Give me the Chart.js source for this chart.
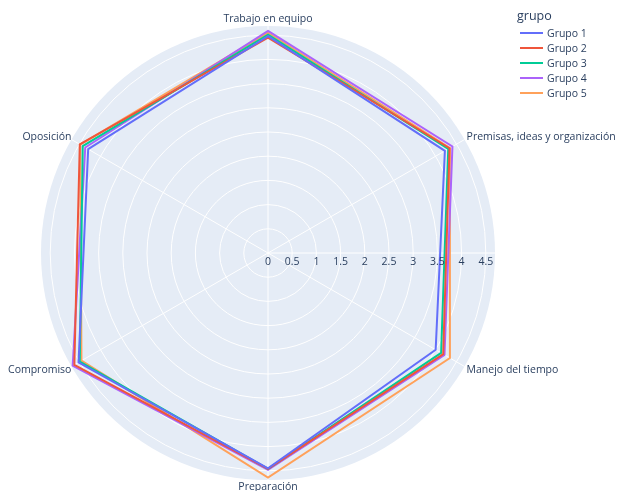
<!DOCTYPE html>
<html>
<head>
<meta charset="utf-8">
<script src="https://cdn.jsdelivr.net/npm/chart.js@4"></script>
<style>
  body { margin: 0; background: #fff; font-family: "Open Sans", sans-serif; }
  #wrap { position: relative; width: 618px; height: 491px; }
  #legend { position: absolute; left: 517px; top: 7px; color: #2a3f5f; font-size: 10.5px; }
  #legend .title { font-size: 12.5px; margin-bottom: 1px; }
  #legend .item { display: flex; align-items: center; height: 15px; }
  #legend .swatch { width: 23px; height: 2px; margin: 0 4px 0 3px; }
</style>
</head>
<body>
<div id="wrap">
  <canvas id="chart" width="618" height="491"></canvas>
  <div id="legend"></div>
</div>
<script>
const categories = ["Trabajo en equipo", "Premisas, ideas y organización", "Manejo del tiempo", "Preparación", "Compromiso", "Oposición"];
const groups = ["Grupo 1", "Grupo 2", "Grupo 3", "Grupo 4", "Grupo 5"];
const grupo1 = [4.48, 4.22, 4.00, 4.45, 4.52, 4.29];
const grupo2 = [4.45, 4.33, 4.18, 4.46, 4.62, 4.49];
const grupo3 = [4.51, 4.30, 4.13, 4.46, 4.49, 4.42];
const grupo4 = [4.59, 4.40, 4.21, 4.48, 4.66, 4.36];
const grupo5 = [4.55, 4.34, 4.34, 4.64, 4.45, 4.48];
const tickValues = [0, 0.5, 1, 1.5, 2, 2.5, 3, 3.5, 4, 4.5];
const colors = ["#636efa", "#EF553B", "#00cc96", "#ab63fa", "#FFA15A"];
const series = [grupo1, grupo2, grupo3, grupo4, grupo5];
const textColor = "#2a3f5f";
const font = '10.5px "Open Sans", sans-serif';

// polar background, radial axis line + labels, category labels
const polarDecor = {
  id: "polarDecor",
  beforeDraw(chart) {
    const s = chart.scales.r, ctx = chart.ctx;
    ctx.save();
    ctx.fillStyle = "#E5ECF6";
    ctx.beginPath();
    ctx.arc(s.xCenter, s.yCenter, s.drawingArea, 0, Math.PI * 2);
    ctx.fill();
    ctx.restore();
  },
  beforeDatasetsDraw(chart) {
    const s = chart.scales.r, ctx = chart.ctx;
    ctx.save();
    ctx.strokeStyle = "#fff";
    ctx.lineWidth = 1;
    ctx.beginPath();
    ctx.moveTo(s.xCenter, s.yCenter);
    ctx.lineTo(s.xCenter + s.drawingArea, s.yCenter);
    ctx.stroke();
    ctx.restore();
  },
  afterDraw(chart) {
    const s = chart.scales.r, ctx = chart.ctx;
    ctx.save();
    ctx.font = font;
    ctx.fillStyle = textColor;
    ctx.textAlign = "center";
    ctx.textBaseline = "middle";
    tickValues.forEach(v => {
      ctx.fillText(String(v), s.xCenter + s.getDistanceFromCenterForValue(v), s.yCenter + 9);
    });
    categories.forEach((c, i) => {
      const p = s.getPointPosition(i, s.drawingArea);
      const dx = p.x - s.xCenter, dy = p.y - s.yCenter;
      let x = p.x, y = p.y;
      if (Math.abs(dx) < 1) {
        ctx.textAlign = "center";
        y += dy < 0 ? -7 : 7;
      } else {
        ctx.textAlign = dx > 0 ? "left" : "right";
        x += dx > 0 ? 2 : 0;
        y += dy < 0 ? -2 : 4;
      }
      ctx.fillText(c, x, y);
    });
    ctx.restore();
  }
};

new Chart(document.getElementById("chart"), {
  type: "radar",
  data: {
    labels: categories,
    datasets: groups.map((g, i) => ({
      label: g,
      data: series[i],
      borderColor: colors[i],
      borderWidth: 2,
      fill: false,
      pointRadius: 0,
      tension: 0
    }))
  },
  options: {
    responsive: false,
    animation: false,
    layout: { padding: { left: 41, right: 123, top: 26, bottom: 11 } },
    plugins: { legend: { display: false }, tooltip: { enabled: false } },
    scales: {
      r: {
        min: 0,
        max: 4.69,
        ticks: { display: false, stepSize: 0.5 },
        grid: {
          circular: true,
          color: ctx => ctx.tick && ctx.tick.value > 4.6 ? "transparent" : "#fff",
          lineWidth: 1
        },
        angleLines: { color: "#fff", lineWidth: 1 },
        pointLabels: { display: false }
      }
    }
  },
  plugins: [polarDecor]
});

const legend = document.getElementById("legend");
legend.innerHTML = '<div class="title">grupo</div>' + groups.map((g, i) =>
  `<div class="item"><span class="swatch" style="background:${colors[i]}"></span>${g}</div>`
).join("");
</script>
</body>
</html>
